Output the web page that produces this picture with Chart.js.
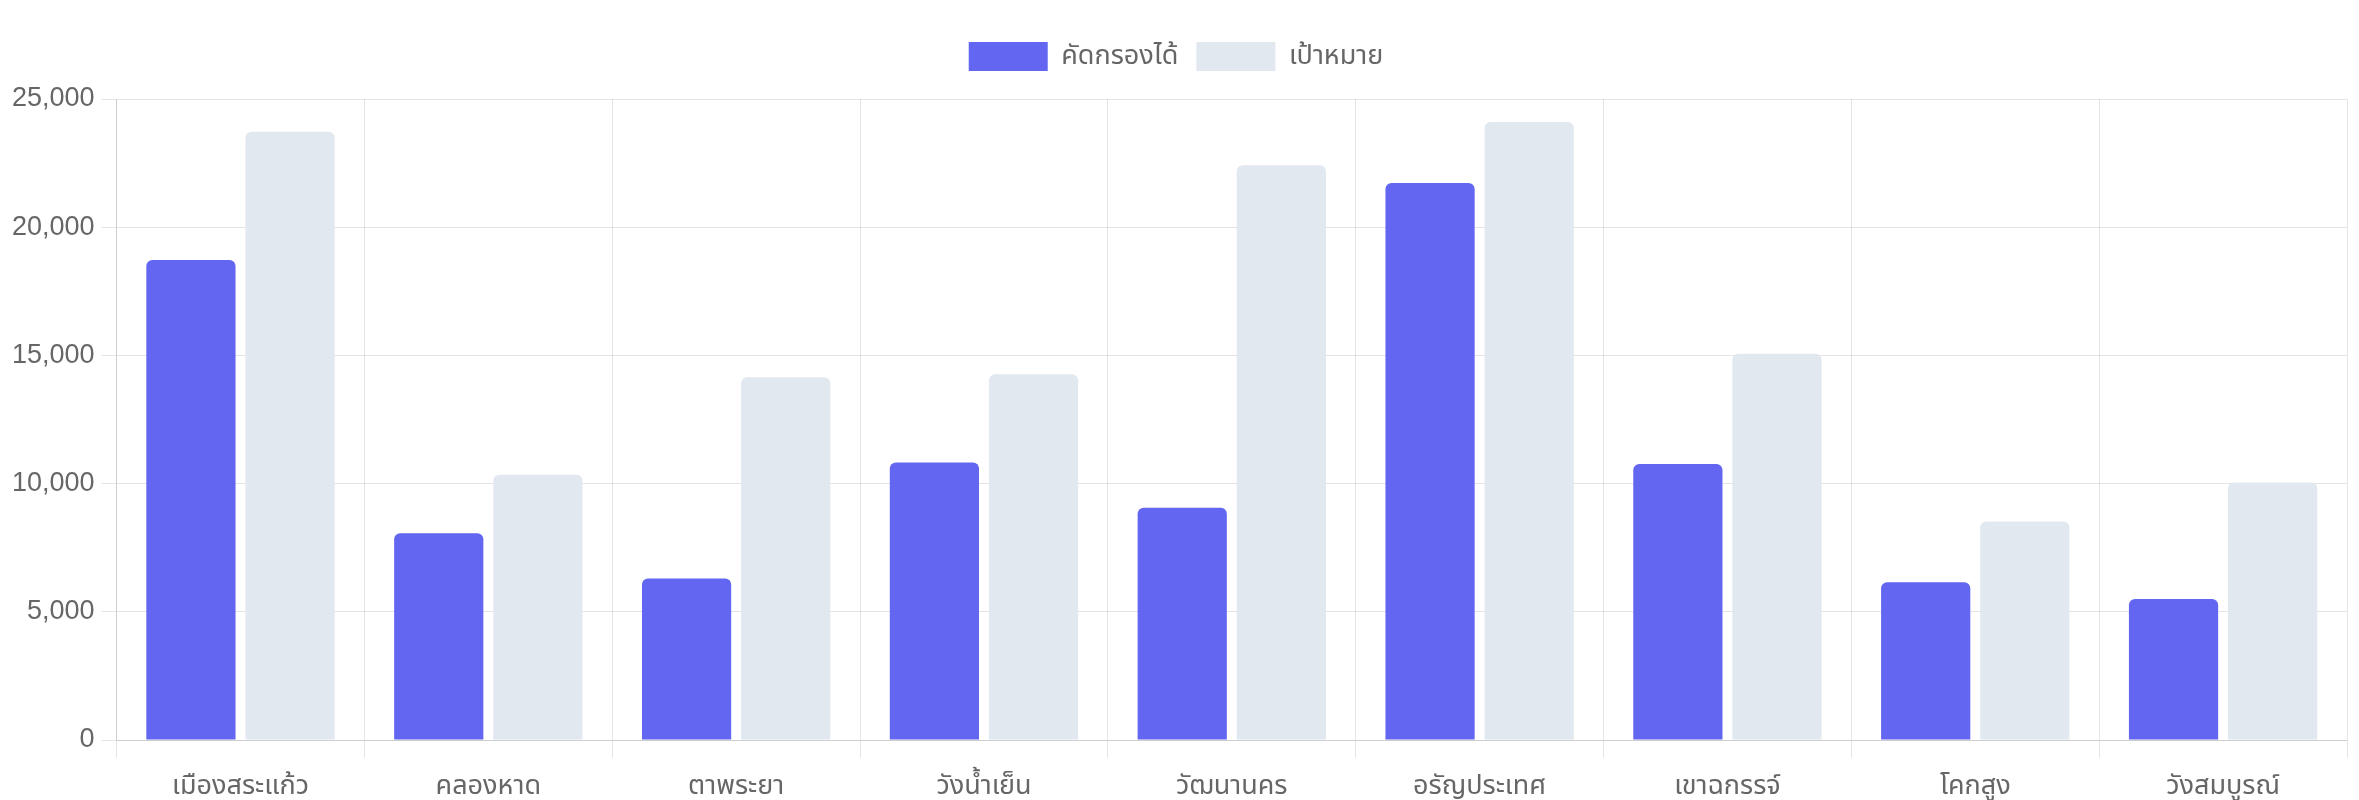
<!DOCTYPE html>
<html lang="th">
<head>
<meta charset="utf-8">
<title>ผลการคัดกรอง</title>
<script src="https://cdn.jsdelivr.net/npm/chart.js@4.4.1/dist/chart.umd.min.js"></script>
<style>
    html, body { margin: 0; padding: 0; background: #fff; }
    #chartBox { width: 2359px; height: 800px; position: relative; }
</style>
</head>
<body>
<div id="chartBox">
    <canvas id="screeningChart"></canvas>
</div>
<script>
const districts = [
    'เมืองสระแก้ว', 'คลองหาด', 'ตาพระยา', 'วังน้ำเย็น', 'วัฒนานคร',
    'อรัญประเทศ', 'เขาฉกรรจ์', 'โคกสูง', 'วังสมบูรณ์'
];
const screened = [18720, 8060, 6300, 10820, 9060, 21720, 10760, 6150, 5500];
const targets = [23720, 10350, 14150, 14260, 22420, 24100, 15060, 8520, 10040];

const seriesNames = ['คัดกรองได้', 'เป้าหมาย'];
const seriesColors = ['#6366f1', '#e2e8f0'];

const yMax = 25000;
const yStep = 5000;

Chart.defaults.font.family = "'Liberation Sans', Arial, 'Noto Sans Thai', 'Noto Sans', sans-serif";
Chart.defaults.font.size = 27;
Chart.defaults.color = '#666';

// adds some room between the legend and the plot
const legendMargin = {
    id: 'legendMargin',
    beforeInit(chart) {
        const origFit = chart.legend.fit;
        chart.legend.fit = function fit() {
            origFit.bind(chart.legend)();
            this.height += 18;
        };
    }
};

let ctx = document.getElementById('screeningChart').getContext('2d');
let screeningChart = new Chart(ctx, {
    type: 'bar',
    data: {
        labels: districts,
        datasets: [{
            label: seriesNames[0],
            data: screened,
            backgroundColor: seriesColors[0],
            borderRadius: 6
        },
        {
            label: seriesNames[1],
            data: targets,
            backgroundColor: seriesColors[1],
            borderRadius: 6
        }]
    },
    options: {
        responsive: true,
        maintainAspectRatio: false,
        animation: false,
        layout: {
            padding: { top: 24, left: 5, right: 12, bottom: 0 }
        },
        plugins: {
            legend: {
                position: 'top',
                labels: {
                    boxWidth: 79,
                    boxHeight: 29,
                    padding: 18
                }
            },
            tooltip: { enabled: false }
        },
        scales: {
            x: {
                grid: { tickLength: 18 },
                ticks: {
                    padding: 15,
                    font: { lineHeight: 1.0 }
                },
                afterFit(scale) {
                    // keep the label strip tight to the bottom edge
                    scale.height = 60;
                }
            },
            y: {
                beginAtZero: true,
                min: 0,
                max: yMax,
                grid: { tickLength: 15 },
                ticks: { stepSize: yStep, padding: 7 }
            }
        }
    },
    plugins: [legendMargin]
});
</script>
</body>
</html>
